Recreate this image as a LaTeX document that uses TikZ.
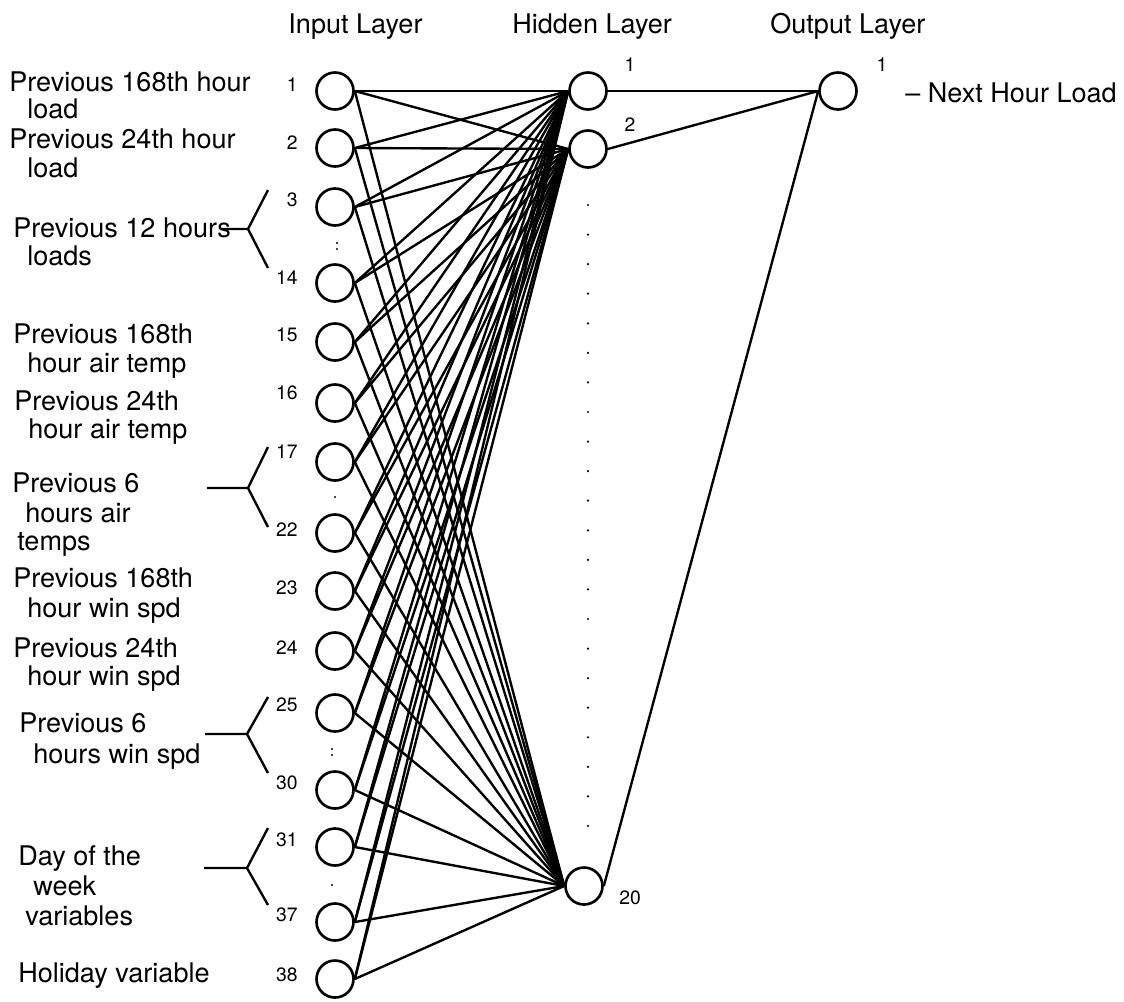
\documentclass[tikz,border=0pt]{standalone}
\usepackage{fontspec}
\setmainfont{TeX Gyre Heros}
\tikzset{
  neuron/.style={circle,draw,line width=1.5pt,minimum size=0.74cm,inner sep=0pt},
  idx/.style={font=\fontsize{11}{13}\selectfont,inner sep=0pt},
  lbl/.style={font=\fontsize{15.4}{18}\selectfont,anchor=base west,inner sep=0pt},
  link/.style={line width=1.35pt},
}
\begin{document}
\begin{tikzpicture}[x=0.02cm,y=-0.02cm]
\useasboundingbox (0,0) rectangle (1124,1001);
% layer headings
\node[lbl] (hdin) at (288,33) {Input Layer};
\node[lbl] (hdhid) at (512,33) {Hidden Layer};
\node[lbl] (hdout) at (770,33) {Output Layer};
% input neurons with their numbers
\foreach \n/\y/\ly in {1/91/85,2/148/143,3/207/200,14/283/278,15/342/335,16/403/393,
    17/462/452,22/533/530,23/591/588,24/651/648,25/713/705,30/790/783,31/847/840,
    37/922/915,38/979/975}{
  \node[neuron] (i\n) at (335,\y) {};
  \node[idx,anchor=east] (n\n) at (298,\ly) {\n};
}
% hidden and output neurons
\node[neuron] (h1) at (588,91) {};
\node[neuron] (h2) at (588,149) {};
\node[neuron] (h20) at (584,886) {};
\node[neuron] (o1) at (838,91) {};
\node[idx] (nh1) at (630,65) {1};
\node[idx] (nh2) at (630,125) {2};
\node[idx] (nh20) at (630,898) {20};
\node[idx] (no1) at (882,65) {1};
\node[lbl] (outname) at (905,102) {\textendash\ Next Hour Load};
% skipped neurons
\foreach \k in {0,...,21}
  \fill (588,205+29.57*\k) circle (0.7pt);
\fill (337,243) circle (0.6pt) (337,249) circle (0.6pt);
\fill (335,497) circle (0.6pt);
\fill (332,749) circle (0.6pt) (332,755) circle (0.6pt);
\fill (332,885) circle (0.6pt);
% weights
\foreach \i in {1,2,3,14,15,16,17,22,23,24,25,30,31,37,38}
  \foreach \h in {1,2,20}
    \draw[link] (i\i.east) -- (h\h.west);
\draw[link] (h1.east) -- (o1.west);
\draw[link] (h2.east) -- (o1.west);
\draw[link] (h20.east) -- (o1.west);
% input descriptions
\foreach \x/\y/\t in {9/91/Previous 168th hour,27/118/load,9/148/Previous 24th hour,
    27/177/load,13/237/Previous 12 hours,27/265/loads,13/343/Previous 168th,
    27/372/hour air temp,14/410/Previous 24th,28/438/hour air temp,12/492/Previous 6,
    25/522/hours air,17/550/temps,13/587/Previous 168th,27/617/hour win spd,
    13/657/Previous 24th,27/685/hour win spd,19/732/Previous 6,33/763/hours win spd,
    18/865/Day of the,33/895/week,25/925/variables,18/982/Holiday variable}
  \node[lbl] at (\x,\y) {\t};
% brackets grouping inputs
\draw[link] (222,229) -- (248,229) -- (268,190) (248,229) -- (268,268);
\draw[link] (207,488) -- (248,488) -- (268,447) (248,488) -- (268,527);
\draw[link] (205,734) -- (247,734) -- (268,697) (247,734) -- (268,773);
\draw[link] (204,868) -- (247,868) -- (268,828) (247,868) -- (268,905);
\end{tikzpicture}
\end{document}
